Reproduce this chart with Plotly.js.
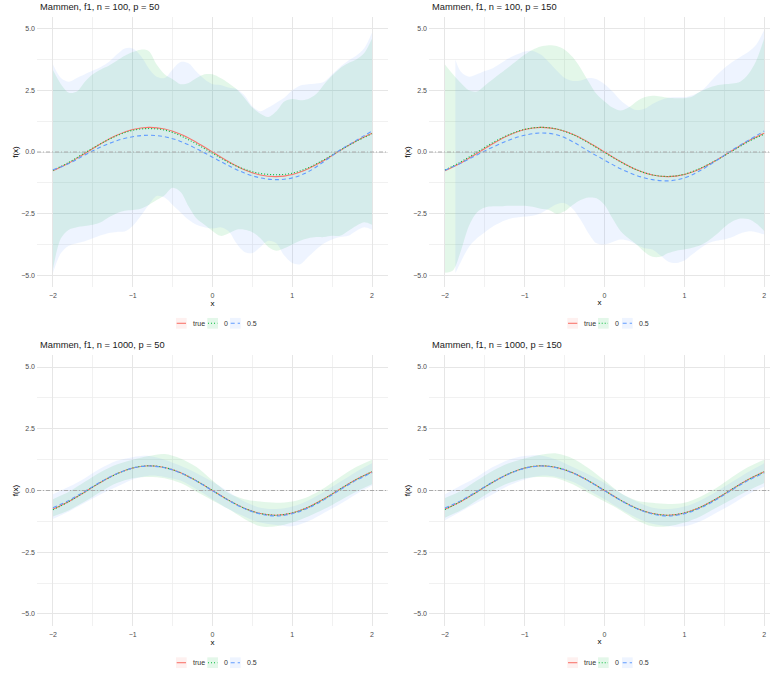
<!DOCTYPE html>
<html><head><meta charset="utf-8">
<script src="https://cdn.plot.ly/plotly-3.0.1.min.js"></script>
<style>html,body{margin:0;padding:0;background:#fff}#chart{width:770px;height:673px}</style>
</head><body><div id="chart"></div>
<script>
// ---------- data ----------
const panelTitles = ['Mammen, f1, n = 100, p = 50', 'Mammen, f1, n = 100, p = 150', 'Mammen, f1, n = 1000, p = 50', 'Mammen, f1, n = 1000, p = 150'];
const legendLabels = ['true', '0', '0.5'];
const xTickVals = [-2, -1, 0, 1, 2];
const xTickText = ['\u22122', '\u22121', '0', '1', '2'];
const yTickVals = [-5, -2.5, 0, 2.5, 5];
const yTickText = ['\u22125.0', '\u22122.5', '0.0', '2.5', '5.0'];
const xMinorVals = [-1.5, -0.5, 0.5, 1.5];
const yMinorVals = [-3.75, -1.25, 1.25, 3.75];

const xLine = [-2.0,-1.8,-1.6,-1.4,-1.2,-1.0,-0.8,-0.6,-0.4,-0.2,0.0,0.2,0.4,0.6,0.8,1.0,1.2,1.4,1.6,1.8,2.0];
const xBand = [-2.0,-1.9,-1.8,-1.7,-1.6,-1.5,-1.4,-1.3,-1.2,-1.1,-1.0,-0.9,-0.8,-0.7,-0.6,-0.5,-0.4,-0.3,-0.2,-0.1,0.0,0.1,0.2,0.3,0.4,0.5,0.6,0.7,0.8,0.9,1.0,1.1,1.2,1.3,1.4,1.5,1.6,1.7,1.8,1.9,2.0];
const xBandP2Blue = [-1.87,-1.8,-1.7,-1.6,-1.5,-1.4,-1.3,-1.2,-1.1,-1.0,-0.9,-0.8,-0.7,-0.6,-0.5,-0.4,-0.3,-0.2,-0.1,0.0,0.1,0.2,0.3,0.4,0.5,0.6,0.7,0.8,0.9,1.0,1.1,1.2,1.3,1.4,1.5,1.6,1.7,1.8,1.9,2.0];

const trueF1 = [-0.757,-0.443,-0.058,0.335,0.675,0.909,1.000,0.932,0.717,0.389,0.000,-0.389,-0.717,-0.932,-1.000,-0.909,-0.675,-0.335,0.058,0.443,0.757];

// panel 1: n = 100, p = 50
const p1Zero = [-0.74,-0.42,-0.03,0.34,0.66,0.88,0.95,0.89,0.66,0.32,-0.05,-0.42,-0.70,-0.87,-0.92,-0.86,-0.64,-0.31,0.07,0.43,0.74];
const p1Half = [-0.72,-0.47,-0.12,0.20,0.46,0.62,0.68,0.62,0.43,0.13,-0.21,-0.55,-0.85,-1.05,-1.12,-1.05,-0.80,-0.38,0.08,0.47,0.85];
const p1GreenUpper = [3.32,2.75,2.40,2.45,2.85,3.15,3.35,3.50,3.70,3.90, 4.05,4.15,4.10,3.55,3.15,2.95,2.75,2.80,3.00,3.15, 3.15,3.00,2.80,2.55,2.20,1.80,1.55,1.42,1.65,2.05, 2.15,2.10,2.15,2.35,2.75,3.10,3.40,3.60,3.75,4.00,4.60];
const p1GreenLower = [-4.75,-3.50,-3.15,-3.05,-3.00,-2.95,-2.85,-2.65,-2.48,-2.38, -2.35,-2.30,-2.15,-1.95,-1.75,-1.45,-1.62,-2.20,-2.70,-2.95, -3.20,-3.40,-3.30,-3.15,-3.15,-3.25,-3.50,-3.85,-4.00,-3.90, -3.75,-3.60,-3.50,-3.45,-3.45,-3.40,-3.40,-3.20,-3.00,-2.85,-2.95];
const p1BlueUpper = [3.55,3.00,2.85,3.00,3.15,3.30,3.45,3.65,3.95,4.20, 4.20,3.90,3.40,3.05,3.00,3.35,3.65,3.60,3.25,2.95, 2.75,2.72,2.62,2.55,2.30,1.85,1.65,1.80,2.00,2.20, 2.50,2.70,2.75,2.78,2.85,3.15,3.45,3.70,3.90,4.20,4.85];
const p1BlueLower = [-4.90,-4.10,-3.80,-3.70,-3.62,-3.50,-3.38,-3.28,-3.24,-3.22, -3.00,-2.60,-2.15,-1.78,-1.85,-2.15,-2.45,-2.75,-2.95,-3.05, -3.10,-3.05,-3.20,-3.70,-4.05,-4.10,-3.85,-3.60,-3.70,-4.20, -4.50,-4.55,-4.25,-3.95,-3.70,-3.55,-3.45,-3.40,-3.20,-3.05,-3.15];

// panel 2: n = 100, p = 150
const p2Zero = [-0.73,-0.40,-0.01,0.38,0.70,0.92,1.00,0.93,0.71,0.37,-0.02,-0.40,-0.72,-0.93,-0.99,-0.90,-0.66,-0.33,0.04,0.42,0.72];
const p2Half = [-0.74,-0.45,-0.12,0.20,0.48,0.68,0.77,0.70,0.42,0.03,-0.33,-0.68,-0.95,-1.12,-1.17,-1.05,-0.75,-0.35,0.08,0.47,0.85];
const p2GreenUpper = [3.55,3.15,2.80,2.50,2.45,2.70,2.95,3.20,3.45,3.70, 3.95,4.15,4.28,4.33,4.30,4.15,3.85,3.40,2.85,2.35, 2.05,1.80,1.68,1.80,2.05,2.22,2.28,2.25,2.20,2.18, 2.18,2.25,2.45,2.60,2.70,2.75,2.78,2.85,3.15,3.70,4.60];
const p2GreenLower = [-4.90,-4.80,-4.00,-3.00,-2.45,-2.25,-2.20,-2.20,-2.18,-2.18, -2.18,-2.22,-2.30,-2.35,-2.50,-2.40,-2.15,-1.95,-1.85,-1.88, -2.15,-2.70,-3.20,-3.50,-3.75,-4.05,-4.25,-4.25,-4.10,-4.00, -3.95,-3.88,-3.78,-3.60,-3.35,-3.05,-2.82,-2.70,-2.72,-2.90,-3.20];
const p2BlueUpper = [3.75, 3.25,3.05,3.15,3.28,3.40,3.60,3.80,3.95,4.08, 4.10,3.95,3.65,3.30,3.00,2.88,2.90,3.00,2.95,2.75, 2.45,2.10,1.85,1.70,1.75,1.95,2.10,2.20,2.22,2.22, 2.30,2.45,2.75,3.10,3.40,3.65,3.85,4.05,4.35,4.95];
const p2BlueLower = [-4.92, -4.45,-3.85,-3.50,-3.25,-3.02,-2.85,-2.72,-2.66,-2.62, -2.58,-2.48,-2.30,-2.12,-2.08,-2.30,-2.75,-3.30,-3.70,-3.75, -3.65,-3.55,-3.60,-3.75,-3.90,-3.95,-4.20,-4.45,-4.50,-4.40, -4.15,-3.90,-3.70,-3.60,-3.55,-3.45,-3.30,-3.22,-3.25,-3.35];

// panel 3: n = 1000, p = 50
const p3Zero = [-0.78,-0.45,-0.06,0.34,0.67,0.91,1.00,0.93,0.72,0.39,0.00,-0.39,-0.72,-0.93,-1.00,-0.91,-0.68,-0.34,0.06,0.44,0.76];
const p3Half = [-0.70,-0.40,-0.03,0.35,0.68,0.91,0.99,0.92,0.71,0.38,-0.01,-0.40,-0.73,-0.95,-1.03,-0.94,-0.71,-0.37,0.03,0.41,0.72];
const p3GreenUpper = [-0.35,-0.05,0.35,0.75,1.05,1.25,1.40,1.48,1.30,0.95,0.40,-0.10,-0.35,-0.45,-0.50,-0.45,-0.25,0.10,0.55,0.95,1.25];
const p3GreenLower = [-1.05,-0.80,-0.45,-0.05,0.30,0.50,0.55,0.50,0.30,-0.05,-0.40,-0.75,-1.15,-1.45,-1.45,-1.30,-1.05,-0.75,-0.40,-0.05,0.25];
const p3BlueUpper = [-0.15,0.15,0.50,0.90,1.20,1.35,1.40,1.25,1.00,0.70,0.35,-0.05,-0.45,-0.70,-0.75,-0.65,-0.40,-0.05,0.35,0.75,1.10];
const p3BlueLower = [-1.15,-0.85,-0.50,-0.15,0.15,0.45,0.60,0.55,0.40,0.05,-0.35,-0.75,-1.05,-1.30,-1.40,-1.45,-1.25,-0.90,-0.55,-0.15,0.20];

// panel 4: n = 1000, p = 150
const p4Zero = [-0.77,-0.44,-0.06,0.34,0.68,0.91,1.00,0.93,0.72,0.39,0.00,-0.39,-0.72,-0.93,-1.00,-0.91,-0.68,-0.34,0.06,0.44,0.76];
const p4Half = [-0.71,-0.41,-0.04,0.34,0.67,0.90,0.99,0.92,0.71,0.38,-0.01,-0.40,-0.73,-0.95,-1.03,-0.94,-0.71,-0.37,0.03,0.41,0.71];
const p4GreenUpper = [-0.30,-0.02,0.40,0.80,1.10,1.30,1.45,1.50,1.30,0.90,0.40,-0.10,-0.40,-0.50,-0.55,-0.50,-0.25,0.10,0.55,0.95,1.25];
const p4GreenLower = [-1.10,-0.80,-0.40,0.00,0.30,0.50,0.55,0.50,0.25,-0.10,-0.45,-0.80,-1.20,-1.45,-1.45,-1.30,-1.05,-0.70,-0.35,0.00,0.30];
const p4BlueUpper = [-0.15,0.20,0.55,0.95,1.25,1.40,1.42,1.25,0.95,0.65,0.30,-0.10,-0.45,-0.70,-0.75,-0.65,-0.40,-0.05,0.35,0.75,1.10];
const p4BlueLower = [-1.20,-0.85,-0.50,-0.15,0.20,0.45,0.60,0.55,0.35,0.00,-0.35,-0.75,-1.10,-1.35,-1.45,-1.45,-1.25,-0.90,-0.55,-0.15,0.15];

// ---------- styling ----------
const RED = '#F8766D', GREEN = '#00BA38', BLUE = '#619CFF';
const RED_FILL = 'rgba(248,118,109,0.11)', GREEN_FILL = 'rgba(0,186,56,0.11)', BLUE_FILL = 'rgba(97,156,255,0.11)';
const FONT = 'Liberation Sans, Arial, Helvetica, sans-serif';
const W = 770, H = 673;
const px = v => v / W;
const py = v => 1 - v / H;

function ribbon(xs, lo, hi, fill, sfx) {
  const base = {type: 'scatter', mode: 'lines', hoverinfo: 'skip', showlegend: false,
    xaxis: 'x' + sfx, yaxis: 'y' + sfx};
  return [
    Object.assign({}, base, {x: xs, y: lo, line: {width: 0, shape: 'spline', smoothing: 0.9}}),
    Object.assign({}, base, {x: xs, y: hi, fill: 'tonexty', fillcolor: fill, line: {width: 0, shape: 'spline', smoothing: 0.9}})
  ];
}
function curve(ys, color, dash, sfx) {
  return {type: 'scatter', mode: 'lines', x: xLine, y: ys, showlegend: false, hoverinfo: 'skip',
    xaxis: 'x' + sfx, yaxis: 'y' + sfx,
    line: {color: color, width: 1.1, dash: dash, shape: 'spline', smoothing: 1}};
}

const panels = [
  {sfx: '', zero: p1Zero, half: p1Half, gu: p1GreenUpper, gl: p1GreenLower, bu: p1BlueUpper, bl: p1BlueLower, xg: xBand, xb: xBand},
  {sfx: '2', zero: p2Zero, half: p2Half, gu: p2GreenUpper, gl: p2GreenLower, bu: p2BlueUpper, bl: p2BlueLower, xg: xBand, xb: xBandP2Blue},
  {sfx: '3', zero: p3Zero, half: p3Half, gu: p3GreenUpper, gl: p3GreenLower, bu: p3BlueUpper, bl: p3BlueLower, xg: xLine, xb: xLine},
  {sfx: '4', zero: p4Zero, half: p4Half, gu: p4GreenUpper, gl: p4GreenLower, bu: p4BlueUpper, bl: p4BlueLower, xg: xLine, xb: xLine}
];

const traces = [];
panels.forEach(p => {
  traces.push(...ribbon(p.xg, p.gl, p.gu, GREEN_FILL, p.sfx));
  traces.push(...ribbon(p.xb, p.bl, p.bu, BLUE_FILL, p.sfx));
  traces.push(curve(trueF1, RED, 'solid', p.sfx));
  traces.push(curve(p.zero, GREEN, '1px,2px', p.sfx));
  traces.push(curve(p.half, BLUE, '4px,3px', p.sfx));
});

// panel geometry (pixels)
const geo = [
  {l: 37, r: 388, t: 17, b: 287, xr: [-2.2, 2.2]},
  {l: 429, r: 770, t: 17, b: 287, xr: [-2.2, 2.073]},
  {l: 37, r: 388, t: 355.3, b: 625.7, xr: [-2.2, 2.2]},
  {l: 429, r: 770, t: 355.3, b: 625.7, xr: [-2.2, 2.073]}
];
const YR = [-5.474, 5.474];

const layout = {
  width: W, height: H, margin: {l: 0, r: 0, t: 0, b: 0},
  paper_bgcolor: '#fff', plot_bgcolor: '#fff', showlegend: false,
  font: {family: FONT, size: 7, color: '#4d4d4d'},
  shapes: [], annotations: []
};

geo.forEach((g, i) => {
  const sfx = i === 0 ? '' : String(i + 1);
  layout['xaxis' + sfx] = {
    domain: [px(g.l), px(g.r)], range: g.xr, anchor: 'y' + sfx,
    showline: false, zeroline: false, ticks: '', ticklabelstandoff: 3,
    tickmode: 'array', tickvals: xTickVals, ticktext: xTickText,
    tickfont: {family: FONT, size: 7, color: '#4d4d4d'},
    showgrid: true, gridcolor: '#e6e6e6', gridwidth: 1,
    minor: {tickmode: 'array', tickvals: xMinorVals, showgrid: true, gridcolor: '#eeeeee', gridwidth: 0.8, ticks: ''},
    title: {text: 'x', font: {family: FONT, size: 8, color: '#000'}, standoff: 1},
    automargin: false, fixedrange: true
  };
  layout['yaxis' + sfx] = {
    domain: [py(g.b), py(g.t)], range: YR, anchor: 'x' + sfx,
    showline: false, zeroline: false, ticks: '', ticklabelstandoff: 1,
    tickmode: 'array', tickvals: yTickVals, ticktext: yTickText,
    tickfont: {family: FONT, size: 7, color: '#4d4d4d'},
    showgrid: true, gridcolor: '#e6e6e6', gridwidth: 1,
    minor: {tickmode: 'array', tickvals: yMinorVals, showgrid: true, gridcolor: '#eeeeee', gridwidth: 0.8, ticks: ''},
    title: {text: 'f(x)', font: {family: FONT, size: 8, color: '#000'}, standoff: 1},
    automargin: false, fixedrange: true
  };
  // reference line at 0
  layout.shapes.push({type: 'line', xref: 'x' + sfx + ' domain', yref: 'y' + sfx, x0: 0, x1: 1, y0: 0, y1: 0,
    layer: 'above', line: {color: '#aaaaaa', width: 1, dash: '4px,2px,1px,2px'}});
  // panel title
  layout.annotations.push({text: panelTitles[i], xref: 'paper', yref: 'paper', x: px(g.l + 0.5), y: py(g.t - 10),
    xanchor: 'left', yanchor: 'middle', showarrow: false, font: {family: FONT, size: 9.3, color: '#1a1a1a'}});
});

// legends (manual, one per panel)
const legendKeys = [
  {col: RED, fill: RED_FILL, dash: 'solid'},
  {col: GREEN, fill: GREEN_FILL, dash: '1px,2px'},
  {col: BLUE, fill: BLUE_FILL, dash: '4px,3px'}
];
const legendPos = [
  {cy: 323.3, keys: [176, 207.3, 230], texts: [190.7, 222.3, 245]},
  {cy: 323.3, keys: [567.3, 598, 622], texts: [582, 613.3, 636.7]},
  {cy: 662.7, keys: [176, 207.3, 230], texts: [190.7, 222.3, 245]},
  {cy: 662.7, keys: [567.3, 598, 622], texts: [582, 613.3, 636.7]}
];
legendPos.forEach(lp => {
  legendKeys.forEach((k, j) => {
    const kx = lp.keys[j];
    layout.shapes.push({type: 'rect', xref: 'paper', yref: 'paper', x0: px(kx), x1: px(kx + 10.7),
      y0: py(lp.cy + 5.35), y1: py(lp.cy - 5.35), fillcolor: k.fill, line: {width: 0}});
    layout.shapes.push({type: 'line', xref: 'paper', yref: 'paper', x0: px(kx + 0.7), x1: px(kx + 10),
      y0: py(lp.cy), y1: py(lp.cy), line: {color: k.col, width: 1.1, dash: k.dash}});
    layout.annotations.push({text: legendLabels[j], xref: 'paper', yref: 'paper', x: px(lp.texts[j]), y: py(lp.cy),
      xanchor: 'left', yanchor: 'middle', showarrow: false, font: {family: FONT, size: 7, color: '#333'}});
  });
});

Plotly.newPlot('chart', traces, layout, {staticPlot: true, displayModeBar: false});
</script>
</body></html>
